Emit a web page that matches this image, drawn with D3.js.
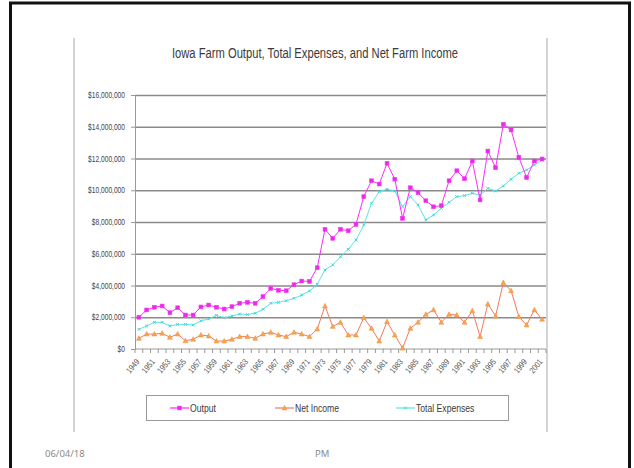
<!DOCTYPE html>
<html>
<head>
<meta charset="utf-8">
<script src="https://cdn.jsdelivr.net/npm/d3@7"></script>
<style>
  html, body { margin: 0; padding: 0; background: #fff; }
  svg { display: block; }
</style>
</head>
<body>
<svg id="chart" width="634" height="468"></svg>
<script>
// Iowa farm figures, millions of dollars per year
const years = d3.range(1949, 2002);
const output = [
  2.00, 2.46, 2.63, 2.71, 2.29, 2.60, 2.14, 2.14, 2.65, 2.77,
  2.63, 2.52, 2.67, 2.88, 2.94, 2.88, 3.30, 3.82, 3.70, 3.67,
  4.05, 4.28, 4.26, 5.12, 7.54, 6.97, 7.54, 7.45, 7.85, 9.60,
  10.60, 10.39, 11.70, 10.70, 8.23, 10.16, 9.85, 9.34, 8.96, 9.03,
  10.60, 11.23, 10.73, 11.84, 9.39, 12.47, 11.42, 14.15, 13.80, 12.07,
  10.80, 11.84, 11.97
];
const totalExpenses = [
  1.24, 1.45, 1.68, 1.68, 1.45, 1.55, 1.55, 1.51, 1.78, 1.89,
  2.12, 1.97, 2.08, 2.20, 2.17, 2.25, 2.50, 2.88, 2.94, 3.04,
  3.19, 3.40, 3.65, 4.09, 4.98, 5.30, 5.81, 6.28, 6.87, 7.81,
  9.18, 9.91, 10.06, 9.95, 8.96, 9.60, 9.07, 8.13, 8.44, 8.86,
  9.24, 9.60, 9.66, 9.81, 9.70, 10.12, 9.95, 10.27, 10.69, 11.07,
  11.28, 11.59, 11.90
];
const netIncome = [
  0.67, 0.94, 0.94, 0.99, 0.74, 0.94, 0.52, 0.61, 0.88, 0.82,
  0.50, 0.50, 0.61, 0.78, 0.78, 0.67, 0.94, 1.05, 0.88, 0.78,
  1.05, 0.94, 0.78, 1.26, 2.71, 1.42, 1.68, 0.88, 0.88, 1.97,
  1.30, 0.50, 1.72, 0.88, 0.05, 1.30, 1.68, 2.18, 2.46, 1.68,
  2.18, 2.14, 1.68, 2.41, 0.78, 2.83, 2.08, 4.18, 3.67, 2.04,
  1.51, 2.46, 1.87
];
const yTicks = [0, 2, 4, 6, 8, 10, 12, 14, 16];
const yearLabels = years.filter((d, i) => i % 2 === 0);
const seriesNames = ["Output", "Net Income", "Total Expenses"];

const svg = d3.select("#chart");
const FONT = "'Liberation Sans', Arial, sans-serif";

// squeeze text horizontally to get a narrow face look
function condense(sel, f) {
  sel.each(function () {
    const w = this.getComputedTextLength();
    d3.select(this).attr("textLength", w * f).attr("lengthAdjust", "spacingAndGlyphs");
  });
}

// slide frame
svg.append("rect")
  .attr("x", 10.5).attr("y", 3).attr("width", 619).attr("height", 500)
  .attr("fill", "none").attr("stroke", "#111").attr("stroke-width", 3);

// chart area side borders
[74, 547].forEach(xx => {
  svg.append("line")
    .attr("x1", xx).attr("x2", xx).attr("y1", 38).attr("y2", 432)
    .attr("stroke", "#d4d4d4").attr("stroke-width", 2);
});

// title
svg.append("text")
  .attr("x", 315).attr("y", 58)
  .attr("text-anchor", "middle")
  .attr("font-family", FONT).attr("font-size", 14)
  .attr("fill", "#3a3a3a")
  .text("Iowa Farm Output, Total Expenses, and Net Farm Income")
  .call(condense, 0.8);

const plot = { left: 135, right: 546, top: 95, bottom: 349 };

const x = d3.scaleBand().domain(years).range([plot.left, plot.right]).padding(0);
const cx = d => x(d) + x.bandwidth() / 2;
const y = d3.scaleLinear().domain([0, 16]).range([plot.bottom, plot.top]);

// gridlines
svg.append("g")
  .attr("transform", `translate(${plot.left},0)`)
  .call(d3.axisLeft(y).tickValues(yTicks.filter(d => d > 0)).tickSize(-(plot.right - plot.left)).tickFormat(""))
  .call(g => g.select(".domain").remove())
  .call(g => g.selectAll("line").attr("stroke", "#8a8a8a").attr("stroke-width", 1.6));

// y axis
const yAxis = svg.append("g")
  .attr("transform", `translate(${plot.left},0)`)
  .call(d3.axisLeft(y).tickValues(yTicks).tickSize(4).tickPadding(6)
    .tickFormat(d => "$" + d3.format(",")(d * 1e6)));
yAxis.select(".domain").attr("stroke", "#999");
yAxis.selectAll("line").attr("stroke", "#999");
yAxis.selectAll("text")
  .attr("font-family", FONT).attr("font-size", 8.5).attr("fill", "#444")
  .call(condense, 0.78);

// x axis line and category ticks
const xAxis = svg.append("g").attr("transform", `translate(0,${plot.bottom})`);
xAxis.append("line")
  .attr("x1", plot.left).attr("x2", plot.right)
  .attr("stroke", "#999");
xAxis.selectAll("line.tick")
  .data(years.concat([null]))
  .join("line")
  .attr("class", "tick")
  .attr("x1", d => d === null ? plot.right : x(d))
  .attr("x2", d => d === null ? plot.right : x(d))
  .attr("y1", 0).attr("y2", 4)
  .attr("stroke", "#999");

// slanted year labels
svg.append("g").selectAll("text")
  .data(yearLabels)
  .join("text")
  .attr("transform", d => `translate(${cx(d) + 1},${plot.bottom + 13}) rotate(-50)`)
  .attr("text-anchor", "end")
  .attr("font-family", FONT).attr("font-size", 8.5).attr("fill", "#555")
  .text(d => d)
  .call(condense, 0.82);

const lineGen = vals => d3.line().x((d, i) => cx(years[i])).y(d => y(d))(vals);

const series = [
  { name: "Output", values: output, line: "#ff2bff", fill: "#e030e0", marker: "square" },
  { name: "Net Income", values: netIncome, line: "#f4785e", fill: "#f7a845", marker: "triangle" },
  { name: "Total Expenses", values: totalExpenses, line: "#5ae5e5", fill: "#38d4d4", marker: "cross" }
];

function drawMarker(g, s, px, py) {
  if (s.marker === "square") {
    g.append("rect").attr("x", px - 1.9).attr("y", py - 1.9).attr("width", 3.8).attr("height", 3.8)
      .attr("fill", s.fill).attr("stroke", s.line).attr("stroke-width", 0.6);
  } else if (s.marker === "triangle") {
    g.append("path")
      .attr("d", `M${px},${py - 2.6}L${px + 2.4},${py + 1.9}L${px - 2.4},${py + 1.9}Z`)
      .attr("fill", s.fill).attr("stroke", "#f09048").attr("stroke-width", 0.6);
  } else {
    g.append("path")
      .attr("d", `M${px - 1.4},${py - 1.4}L${px + 1.4},${py + 1.4}M${px - 1.4},${py + 1.4}L${px + 1.4},${py - 1.4}`)
      .attr("stroke", s.fill).attr("stroke-width", 0.9);
  }
}

// draw Net Income first, then Total Expenses, Output on top
[series[1], series[2], series[0]].forEach(s => {
  const g = svg.append("g");
  g.append("path")
    .attr("d", lineGen(s.values))
    .attr("fill", "none").attr("stroke", s.line).attr("stroke-width", 1);
  s.values.forEach((v, i) => drawMarker(g, s, cx(years[i]), y(v)));
});

// legend
const lg = svg.append("g");
lg.append("rect")
  .attr("x", 146.5).attr("y", 395.5).attr("width", 362).attr("height", 25)
  .attr("fill", "#fff").attr("stroke", "#9a9a9a");
const legendX = [170, 275, 396];
series.forEach((s, i) => {
  const lx = legendX[i], ly = 408;
  lg.append("line").attr("x1", lx).attr("x2", lx + 19).attr("y1", ly).attr("y2", ly)
    .attr("stroke", s.line).attr("stroke-width", 1.2);
  drawMarker(lg, s, lx + 9.5, ly);
  lg.append("text")
    .attr("x", lx + 20).attr("y", ly + 3.5)
    .attr("font-family", FONT).attr("font-size", 10.5).attr("fill", "#3a3a3a")
    .text(s.name)
    .call(condense, 0.82);
});

// footer
svg.append("text")
  .attr("x", 45).attr("y", 457)
  .attr("font-family", "'Noto Sans', 'Open Sans', sans-serif").attr("font-size", 9.5)
  .attr("fill", "#8a8a8a")
  .text("06/04/18");
svg.append("text")
  .attr("x", 315).attr("y", 457)
  .attr("font-family", "'Noto Sans', 'Open Sans', sans-serif").attr("font-size", 9.5)
  .attr("fill", "#8a8a8a")
  .text("PM");
</script>
</body>
</html>
